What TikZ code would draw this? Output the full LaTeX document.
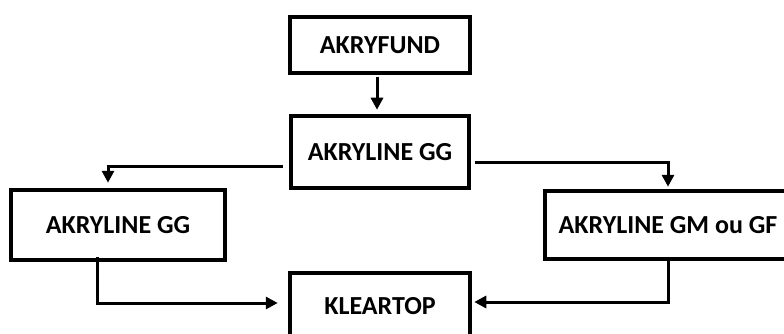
\documentclass[tikz,border=0pt]{standalone}
\usepackage{fontspec}
\setmainfont{Carlito}
\usetikzlibrary{arrows.meta,calc}
\tikzset{
  boxnode/.style={draw=black,line width=4.5pt,fill=white,inner sep=0pt,
    font=\fontsize{26}{31}\selectfont\bfseries,text=black},
  conn/.style={line width=3pt,-{Triangle[length=12pt,width=12pt]}},
}
\begin{document}
\begin{tikzpicture}[x=1pt,y=-1pt]
\useasboundingbox (0,0) rectangle (784,334);
\clip (0,0) rectangle (784,334);
\node[boxnode,minimum width=180pt,minimum height=56pt] (fund) at (380,45) {AKRYFUND};
\node[boxnode,minimum width=178pt,minimum height=72pt] (gg1) at (380,152) {AKRYLINE GG};
\node[boxnode,minimum width=214pt,minimum height=70pt] (gg2) at (118,225) {AKRYLINE GG};
\node[boxnode,minimum width=246pt,minimum height=68pt] (gm) at (668,225) {AKRYLINE GM ou GF};
\node[boxnode,minimum width=180pt,minimum height=66pt] (klear) at (380,306) {KLEARTOP};
\coordinate (kl) at ($(klear.west)+(-10,-3)$);
\coordinate (kr) at ($(klear.east)+(2,-4)$);
\draw[conn,shorten <=2pt,shorten >=4pt] ($(fund.south)+(-3,0)$) -- ($(gg1.north)+(-3,0)$);
\draw[conn,shorten >=5pt] ($(gg1.west)+(-6,14)$) -| ($(gg2.north)+(-10,0)$);
\draw[conn,shorten >=2pt] ($(gg1.east)+(4,10)$) -| (gm.north);
\draw[conn] ($(gg2.south)+(-21,-5)$) |- (kl);
\draw[conn] ($(gm.south)+(0,-4)$) |- (kr);
\end{tikzpicture}
\end{document}
